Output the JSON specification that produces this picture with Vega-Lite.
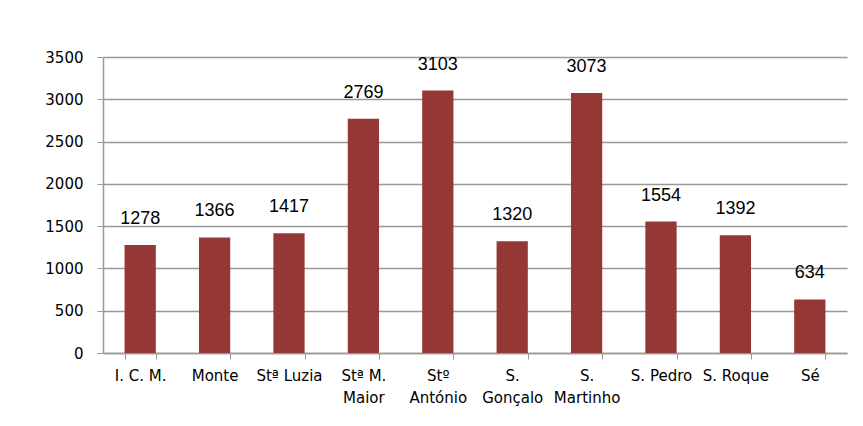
{
  "$schema": "https://vega.github.io/schema/vega-lite/v6.json",
  "autosize": {"type": "none"},
  "padding": {"left": 103, "top": 57, "right": 16, "bottom": 73},
  "width": 744,
  "height": 296,
  "background": "#ffffff",
  "data": {
    "values": [
      {"freguesia": "I. C. M.", "valor": 1278},
      {"freguesia": "Monte", "valor": 1366},
      {"freguesia": "Stª Luzia", "valor": 1417},
      {"freguesia": "Stª M.\nMaior", "valor": 2769},
      {"freguesia": "Stº\nAntónio", "valor": 3103},
      {"freguesia": "S.\nGonçalo", "valor": 1320},
      {"freguesia": "S.\nMartinho", "valor": 3073},
      {"freguesia": "S. Pedro", "valor": 1554},
      {"freguesia": "S. Roque", "valor": 1392},
      {"freguesia": "Sé", "valor": 634}
    ]
  },
  "config": {
    "view": {"stroke": null},
    "axis": {
      "labelFont": "DejaVu Sans",
      "labelFontSize": 15,
      "labelColor": "#000000",
      "domainColor": "#999999",
      "tickColor": "#999999",
      "gridColor": "#999999",
      "gridOpacity": 1,
      "title": null
    }
  },
  "encoding": {
    "x": {
      "field": "freguesia",
      "type": "nominal",
      "sort": null,
      "scale": {"paddingInner": 0.58, "paddingOuter": 0.29},
      "axis": {
        "labelAngle": 0,
        "labelExpr": "split(datum.label, '\\n')",
        "labelLineHeight": 22,
        "labelPadding": 9,
        "tickSize": 6,
        "tickBand": "extent",
        "domainWidth": 1.5,
        "labelBaseline": "top"
      }
    },
    "y": {
      "field": "valor",
      "type": "quantitative",
      "scale": {"domain": [0, 3500], "nice": false},
      "axis": {
        "values": [0, 500, 1000, 1500, 2000, 2500, 3000, 3500],
        "format": "d",
        "grid": true,
        "gridWidth": 1.5,
        "tickSize": 6,
        "labelPadding": 14,
        "domainWidth": 1.5
      }
    }
  },
  "layer": [
    {"mark": {"type": "bar", "color": "#953735"}},
    {
      "mark": {"type": "text", "baseline": "bottom", "dy": -17, "font": "Liberation Sans", "fontSize": 18, "color": "#000000"},
      "encoding": {"text": {"field": "valor", "type": "quantitative", "format": "d"}}
    }
  ]
}
